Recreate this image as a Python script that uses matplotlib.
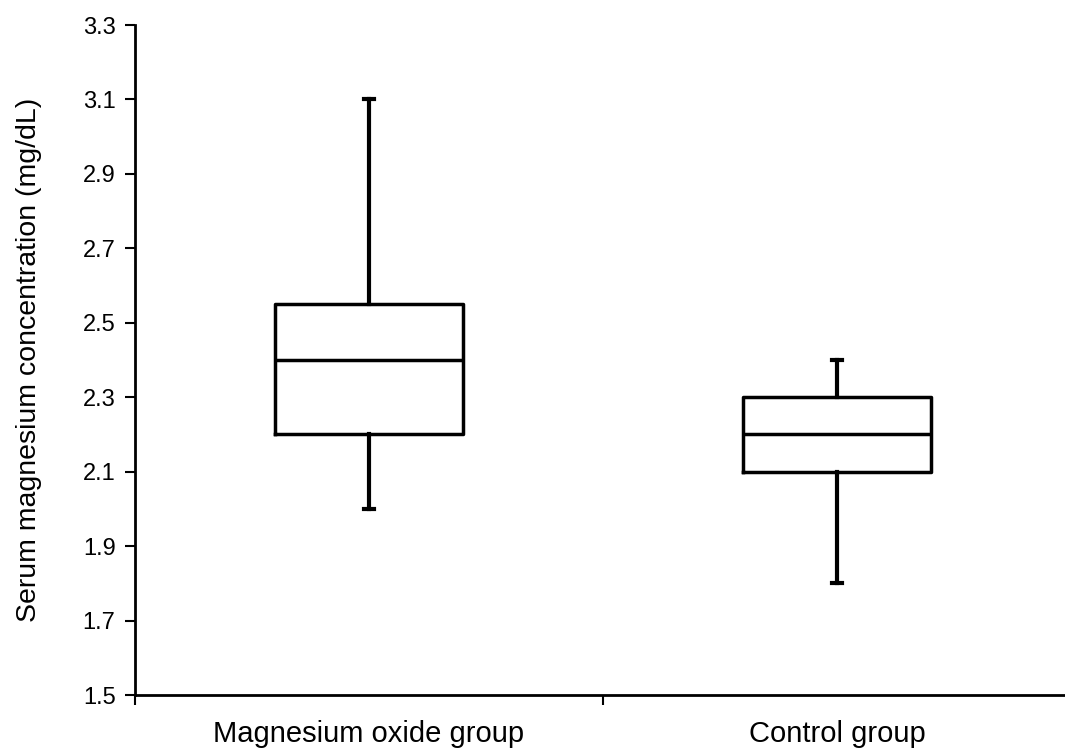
import matplotlib
matplotlib.use("Agg")
import matplotlib.pyplot as plt

plt.rcParams['font.family'] = ['Liberation Sans', 'DejaVu Sans']

categories = ["Magnesium oxide group", "Control group"]
whisker_low = [2.0, 1.8]
q1 = [2.2, 2.1]
median = [2.4, 2.2]
q3 = [2.55, 2.3]
whisker_high = [3.1, 2.4]

stats = []
for i, c in enumerate(categories):
    stats.append(dict(label=c, whislo=whisker_low[i], q1=q1[i], med=median[i],
                      q3=q3[i], whishi=whisker_high[i], fliers=[]))

fig = plt.figure(figsize=(10.65, 7.48), dpi=100)
ax = fig.add_axes([135/1065, 1-695/748, (1071-135)/1065, (695-25)/748])

positions = [0.5, 1.5]
ax.bxp(stats, positions=positions, widths=0.4, capwidths=0.022, showfliers=False,
       boxprops=dict(color='black', linewidth=2.5),
       medianprops=dict(color='black', linewidth=2.5),
       whiskerprops=dict(color='black', linewidth=3),
       capprops=dict(color='black', linewidth=3))

ax.set_xlim(0, 2)
ax.set_ylim(1.5, 3.3)
ax.set_yticks([1.5 + 0.2*i for i in range(10)])
ax.set_yticklabels([f"{1.5 + 0.2*i:.1f}" for i in range(10)])
ax.set_xticks([0, 1, 2])
ax.set_xticklabels([])
ax.set_xticks(positions, minor=True)
ax.set_xticklabels(categories, minor=True, fontsize=21)
ax.tick_params(axis='x', which='minor', length=0, pad=18)
ax.tick_params(axis='x', which='major', direction='out', length=7, width=1.5)
ax.tick_params(axis='y', direction='out', length=7, width=1.5, labelsize=17, pad=7)

for s in ['top', 'right']:
    ax.spines[s].set_visible(False)
for s in ['left', 'bottom']:
    ax.spines[s].set_linewidth(2)

ax.set_ylabel("Serum magnesium concentration (mg/dL)", fontsize=20.5, labelpad=29)

fig.savefig("out.png", dpi=100)
